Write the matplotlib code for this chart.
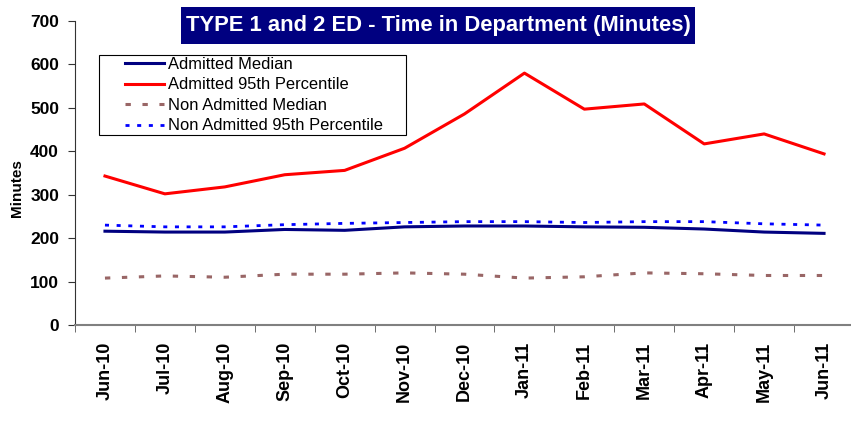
import matplotlib
matplotlib.use("Agg")
import matplotlib.pyplot as plt
from matplotlib.patches import Rectangle
import numpy as np

months = ["Jun-10", "Jul-10", "Aug-10", "Sep-10", "Oct-10", "Nov-10", "Dec-10",
          "Jan-11", "Feb-11", "Mar-11", "Apr-11", "May-11", "Jun-11"]
admitted_median = [216, 214, 214, 220, 218, 226, 228, 228, 226, 225, 221, 214, 211]
admitted_95 = [343, 302, 318, 346, 356, 407, 486, 580, 497, 509, 417, 440, 394]
non_admitted_median = [108, 113, 110, 117, 117, 120, 117, 108, 111, 120, 118, 114, 114]
non_admitted_95 = [230, 226, 226, 231, 234, 236, 238, 238, 236, 238, 238, 233, 230]
yticks = [0, 100, 200, 300, 400, 500, 600, 700]

plt.rcParams['font.family'] = ['Liberation Sans', 'DejaVu Sans']

W, H = 851, 424
fig = plt.figure(figsize=(W / 100, H / 100), dpi=100)
ax = fig.add_axes([75 / W, 99 / H, 779 / W, 304 / H])

x = np.arange(len(months))
ax.plot(x, admitted_median, color="#000080", lw=2.2, label="Admitted Median")
ax.plot(x, admitted_95, color="#FF0000", lw=2.2, label="Admitted 95th Percentile")
ax.plot(x, non_admitted_median, color="#996666", lw=2.2, ls=(0, (1.75, 3.8)),
        label="Non Admitted Median")
ax.plot(x, non_admitted_95, color="#0000FF", lw=2.0, ls=(0, (1.45, 2.75)),
        label="Non Admitted 95th Percentile")

ax.set_xlim(-0.5, len(months) - 0.5)
ax.set_ylim(0, 700)
ax.set_yticks(yticks)
ax.set_yticklabels([str(v) for v in yticks], fontsize=12.5, fontweight="bold")
ax.set_xticks(x)
ax.set_xticklabels(months, rotation=90, fontsize=13, fontweight="bold")
ax.tick_params(axis="x", length=0, pad=12)
ax.set_xticks(np.arange(-0.5, len(months) - 0.5, 1), minor=True)
ax.tick_params(axis="x", which="minor", length=5, direction="out", color="#555555")
ax.tick_params(axis="y", length=5, direction="out", color="#333333", pad=6.5)

for s in ["top", "right"]:
    ax.spines[s].set_visible(False)
ax.spines["left"].set_color("#333333")
ax.spines["bottom"].set_color("#808080")
ax.spines["bottom"].set_linewidth(1.5)

fig.text(17 / W, 1 - 188 / H, "Minutes", rotation=90, ha="center", va="center",
         fontsize=11, fontweight="bold")

# legend frame
fig.patches.append(Rectangle((99 / W, 1 - 135 / H), 307 / W, 80 / H, transform=fig.transFigure,
                             facecolor="white", edgecolor="black", lw=0.8, zorder=3))
leg = fig.legend(loc="upper left", bbox_to_anchor=(125 / W, 1 - 57 / H), fontsize=11.9,
                 frameon=False, handlelength=2.36, handletextpad=0.25, borderpad=0,
                 labelspacing=0.33, borderaxespad=0)
leg.set_zorder(4)

# title
fig.patches.append(Rectangle((181 / W, 1 - 44 / H), 514 / W, 37 / H, transform=fig.transFigure,
                             facecolor="#000080", edgecolor="none", zorder=3))
fig.text(438 / W, 1 - 26 / H, "TYPE 1 and 2 ED - Time in Department (Minutes)",
         ha="center", va="center", color="white", fontsize=15.8, fontweight="bold", zorder=4)

fig.savefig("out.png", dpi=100)
